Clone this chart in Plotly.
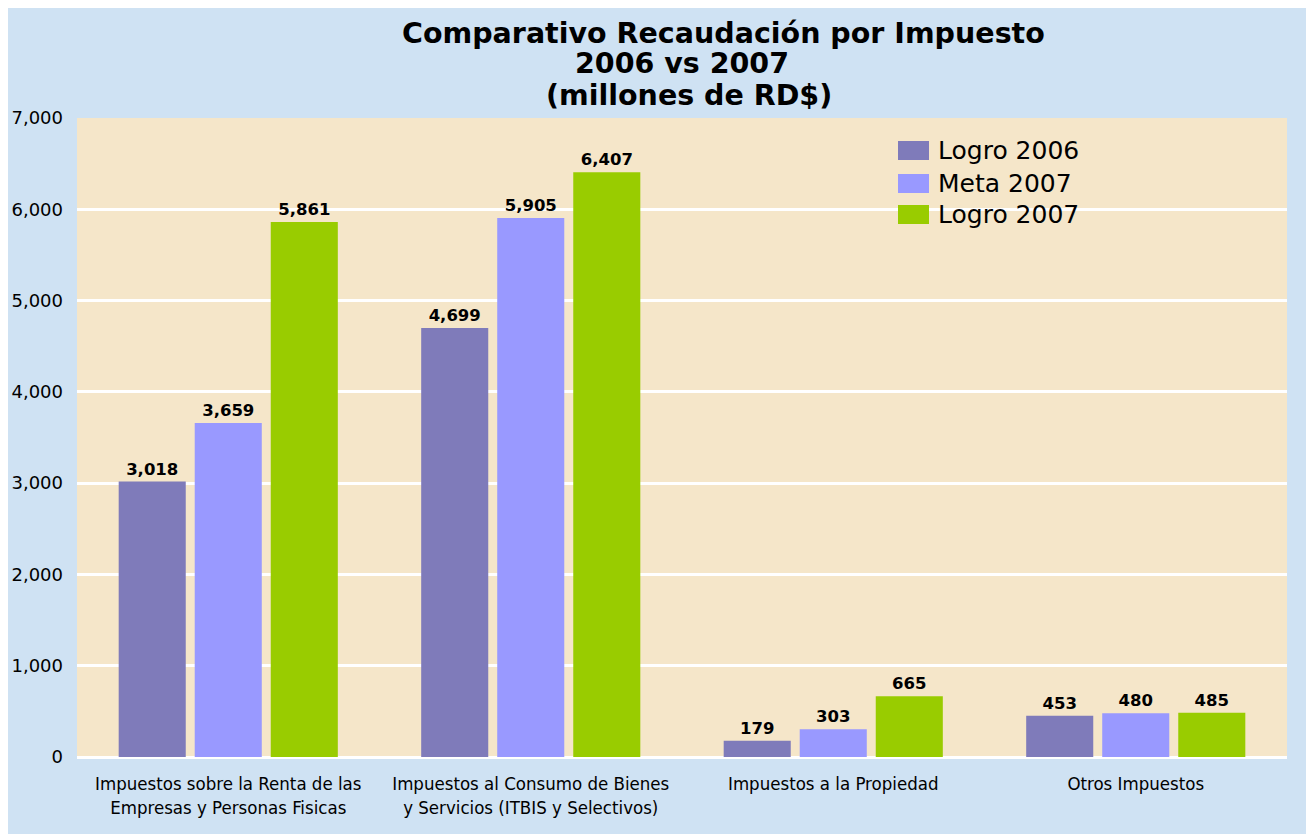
import plotly.graph_objects as go

categories = ["Impuestos sobre la Renta de las<br>Empresas y Personas Fisicas",
              "Impuestos al Consumo de Bienes<br>y Servicios (ITBIS y Selectivos)",
              "Impuestos a la Propiedad",
              "Otros Impuestos"]
logro_2006 = [3018, 4699, 179, 453]
meta_2007 = [3659, 5905, 303, 480]
logro_2007 = [5861, 6407, 665, 485]
series_names = ["Logro 2006", "Meta 2007", "Logro 2007"]
series_colors = ["#7F7BBA", "#9999FF", "#99CC00"]
y_ticks = [0, 1000, 2000, 3000, 4000, 5000, 6000, 7000]
title_lines = ["Comparativo Recaudación por Impuesto", "2006 vs 2007", "(millones de RD$)"]

W, H = 1314, 834
ML, MR, MT, MB = 69, 35, 110, 85
PW, PH = W - ML - MR, H - MT - MB


def px(fx):
    return (fx - ML) / PW


def py(fy):
    return (H - MB - fy) / PH


fig = go.Figure()
for name, vals, col in zip(series_names, [logro_2006, meta_2007, logro_2007], series_colors):
    fig.add_trace(go.Bar(
        name=name, x=categories, y=vals, marker_color=col, marker_line_width=0,
        text=[f"{v:,}" for v in vals], textposition="outside", cliponaxis=False,
        textfont=dict(family="DejaVu Sans", size=16.5, color="black", weight="bold"),
        showlegend=False,
    ))

# custom legend (large square swatches)
legend_rows = [(133, 152), (166, 185), (197, 216)]
for (y0, y1), name, col in zip(legend_rows, series_names, series_colors):
    fig.add_shape(type="rect", xref="paper", yref="paper",
                  x0=px(890), x1=px(921), y0=py(y1), y1=py(y0),
                  fillcolor=col, line_width=0)
    fig.add_annotation(xref="paper", yref="paper", x=px(928), y=py((y0 + y1) / 2),
                       xanchor="left", yanchor="middle", text=name, showarrow=False,
                       font=dict(family="DejaVu Sans", size=25, color="black"))

# title lines
title_pos = [(716, 25), (674, 55), (681, 88)]
for (cx, cy), t in zip(title_pos, title_lines):
    fig.add_annotation(xref="paper", yref="paper", x=px(cx), y=py(cy),
                       xanchor="center", yanchor="middle", text=f"<b>{t}</b>", showarrow=False,
                       font=dict(family="DejaVu Sans", size=28.5, color="black"))

fig.update_layout(
    width=W, height=H,
    paper_bgcolor="#CFE2F3", plot_bgcolor="#F5E6C9",
    margin=dict(l=ML, r=MR, t=MT, b=MB, autoexpand=False),
    barmode="group", bargap=0.246, bargroupgap=0.118,
    showlegend=False,
    xaxis=dict(tickfont=dict(family="Liberation Sans Narrow, DejaVu Sans Condensed, Arial", size=18.5, color="black"),
               showline=False, ticks="", ticklabelstandoff=13, automargin=False),
    yaxis=dict(range=[0, 7000], tickvals=y_ticks, tickformat=",d",
               tickfont=dict(family="DejaVu Sans", size=18, color="black"),
               gridcolor="white", gridwidth=3, zeroline=True, zerolinecolor="white", zerolinewidth=3,
               showline=False, ticks="", ticklabelstandoff=13, automargin=False),
    font=dict(family="DejaVu Sans"),
)
fig.write_html("out.html")
